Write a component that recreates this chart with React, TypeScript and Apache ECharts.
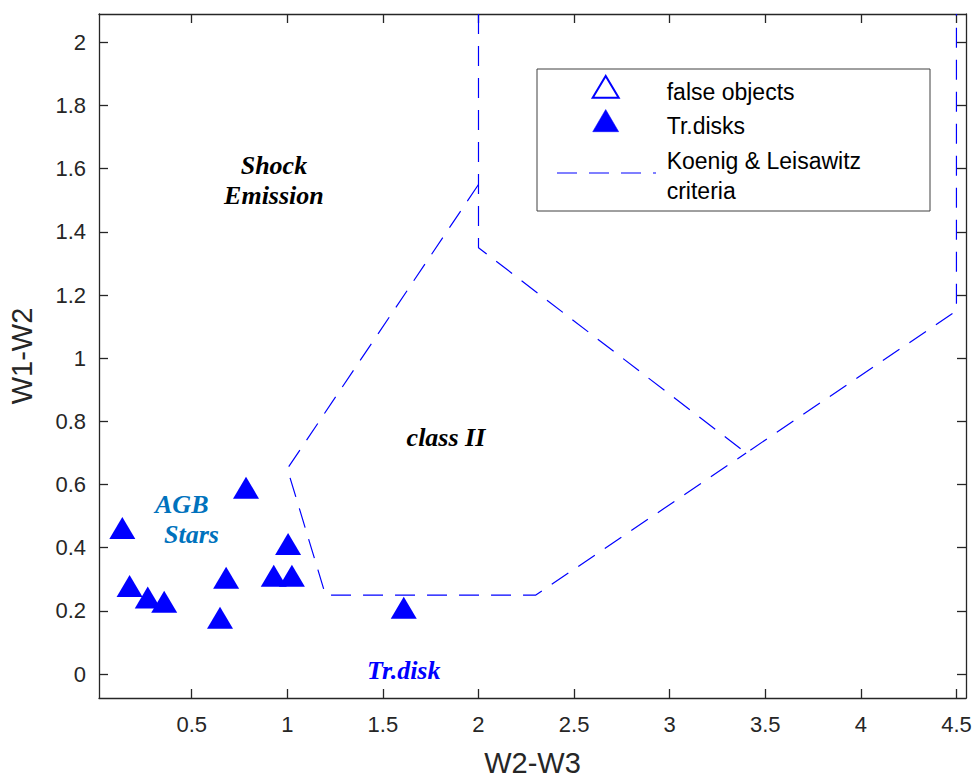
import React, { useEffect, useRef } from "react";
import * as echarts from "echarts";

// Transition disk candidates (W2-W3, W1-W2)
const trDisksX = [0.137, 0.175, 0.27, 0.356, 0.648, 0.68, 0.784, 0.929, 1.024, 1.004, 1.609];
const trDisksY = [0.462, 0.279, 0.242, 0.229, 0.178, 0.305, 0.59, 0.311, 0.311, 0.412, 0.21];

// Koenig & Leisawitz criteria boundaries
const criteriaUpperX = [2, 2, 3.4, 4.5, 4.5];
const criteriaUpperY = [2.09, 1.35, 0.7, 1.15, 2.09];
const criteriaLowerX = [2, 1, 1.2, 2.3, 3.4];
const criteriaLowerY = [1.55, 0.65, 0.25, 0.25, 0.7];

// Axis ticks
const xTicks = [0.5, 1, 1.5, 2, 2.5, 3, 3.5, 4, 4.5];
const yTicks = [0, 0.2, 0.4, 0.6, 0.8, 1, 1.2, 1.4, 1.6, 1.8, 2];
const xRange = [0.015, 4.55];
const yRange = [-0.076, 2.09];

// Region annotations (anchor in data coordinates)
const regionTexts = ["Shock\nEmission", "class II", "AGB", "Stars", "Tr.disk"];
const regionX = [0.93, 1.624, 0.308, 0.355, 1.417];
const regionY = [1.564, 0.75, 0.538, 0.442, 0.01];
const regionAlign = ["center", "left", "left", "left", "left"];
const regionColor = ["#000000", "#000000", "#0072BD", "#0072BD", "#0000FF"];

// Legend entries
const legendLabels = ["false objects", "Tr.disks", "Koenig & Leisawitz", "criteria"];

export default function App() {
  const ref = useRef<HTMLDivElement>(null);
  useEffect(() => {
    document.body.style.margin = "0";
    const chart = echarts.init(ref.current!, null, { renderer: "svg" });
    const axisColor = "#262626";
    const tickFont = { fontFamily: "Liberation Sans", fontSize: 22, color: axisColor };
    const nameFont = { fontFamily: "Liberation Sans", fontSize: 29, color: axisColor };
    const lineStyleAxis = { color: axisColor, width: 1.3 };
    const tickStyle = { inside: true, length: 9, lineStyle: { color: axisColor, width: 1.3 } };
    const blue = "#0000FF";
    const dashStyle = { color: blue, width: 1.2, type: [20, 12] };

    chart.setOption({
      animation: false,
      grid: { left: 99, right: 12, top: 14, bottom: 81, containLabel: false, outerBoundsMode: "none" },
      xAxis: [
        {
          type: "value", min: xRange[0], max: xRange[1], position: "bottom",
          name: "W2-W3", nameLocation: "middle", nameGap: 50, nameTextStyle: nameFont,
          axisLine: { show: true, onZero: false, lineStyle: lineStyleAxis },
          axisTick: { ...tickStyle, customValues: xTicks },
          axisLabel: { customValues: xTicks, margin: 15, ...tickFont },
          splitLine: { show: false },
        },
        {
          type: "value", min: xRange[0], max: xRange[1], position: "top",
          axisLine: { show: true, onZero: false, lineStyle: lineStyleAxis },
          axisTick: { ...tickStyle, customValues: xTicks },
          axisLabel: { show: false },
          splitLine: { show: false },
        },
      ],
      yAxis: [
        {
          type: "value", min: yRange[0], max: yRange[1], position: "left",
          name: "W1-W2", nameLocation: "middle", nameGap: 63, nameTextStyle: nameFont,
          axisLine: { show: true, onZero: false, lineStyle: lineStyleAxis },
          axisTick: { ...tickStyle, customValues: yTicks },
          axisLabel: { customValues: yTicks, margin: 13, ...tickFont },
          splitLine: { show: false },
        },
        {
          type: "value", min: yRange[0], max: yRange[1], position: "right",
          axisLine: { show: true, onZero: false, lineStyle: lineStyleAxis },
          axisTick: { ...tickStyle, customValues: yTicks },
          axisLabel: { show: false },
          splitLine: { show: false },
        },
      ],
      series: [
        {
          type: "line", name: "Koenig & Leisawitz criteria",
          data: criteriaUpperX.map((x, i) => [x, criteriaUpperY[i]]),
          symbol: "none", showSymbol: false, clip: true, lineStyle: dashStyle, z: 2,
        },
        {
          type: "line", name: "Koenig & Leisawitz criteria lower",
          data: criteriaLowerX.map((x, i) => [x, criteriaLowerY[i]]),
          symbol: "none", showSymbol: false, clip: true, lineStyle: dashStyle, z: 2,
        },
        {
          type: "scatter", name: "Tr.disks",
          data: trDisksX.map((x, i) => [x, trDisksY[i]]),
          symbol: "triangle", symbolSize: [26, 22],
          itemStyle: { color: blue, opacity: 1 }, z: 3,
        },
      ],
    });

    const toPx = (x: number, y: number) =>
      chart.convertToPixel({ xAxisIndex: 0, yAxisIndex: 0 }, [x, y]) as number[];

    const annotations = regionTexts.map((t, i) => {
      const p = toPx(regionX[i], regionY[i]);
      return {
        type: "text", x: p[0], y: p[1], z: 10,
        style: {
          text: t, fill: regionColor[i], fontFamily: "Liberation Serif", fontSize: 26,
          fontWeight: "bold", fontStyle: "italic", align: regionAlign[i],
          verticalAlign: "middle", lineHeight: 30,
        },
      };
    });

    const legendTextStyle = (text: string) => ({
      text, fill: "#000000", fontFamily: "Liberation Sans", fontSize: 23, align: "left", verticalAlign: "middle",
    });
    const legendY = [92.3, 126.3, 161.3, 190.7];
    const legend = [
      { type: "rect", z: 20, shape: { x: 537, y: 69, width: 393, height: 142 },
        style: { fill: "#ffffff", stroke: "#404040", lineWidth: 1 } },
      { type: "polygon", z: 21, shape: { points: [[592.7, 97.7], [618.7, 97.7], [605.7, 76]] },
        style: { fill: "#ffffff", stroke: blue, lineWidth: 2 } },
      { type: "polygon", z: 21, shape: { points: [[592.7, 131.7], [618.7, 131.7], [605.7, 109.5]] },
        style: { fill: blue, stroke: blue, lineWidth: 0.5 } },
      { type: "polyline", z: 21, shape: { points: [[557, 173], [656, 173]] },
        style: { stroke: blue, lineWidth: 1.2, lineDash: [20, 12], fill: null } },
      ...legendLabels.map((t, i) => ({ type: "text", z: 21, x: 666.7, y: legendY[i], style: legendTextStyle(t) })),
    ];

    chart.setOption({ graphic: [...annotations, ...legend] });

    return () => chart.dispose();
  }, []);
  return <div ref={ref} style={{ width: 978, height: 779 }} />;
}
